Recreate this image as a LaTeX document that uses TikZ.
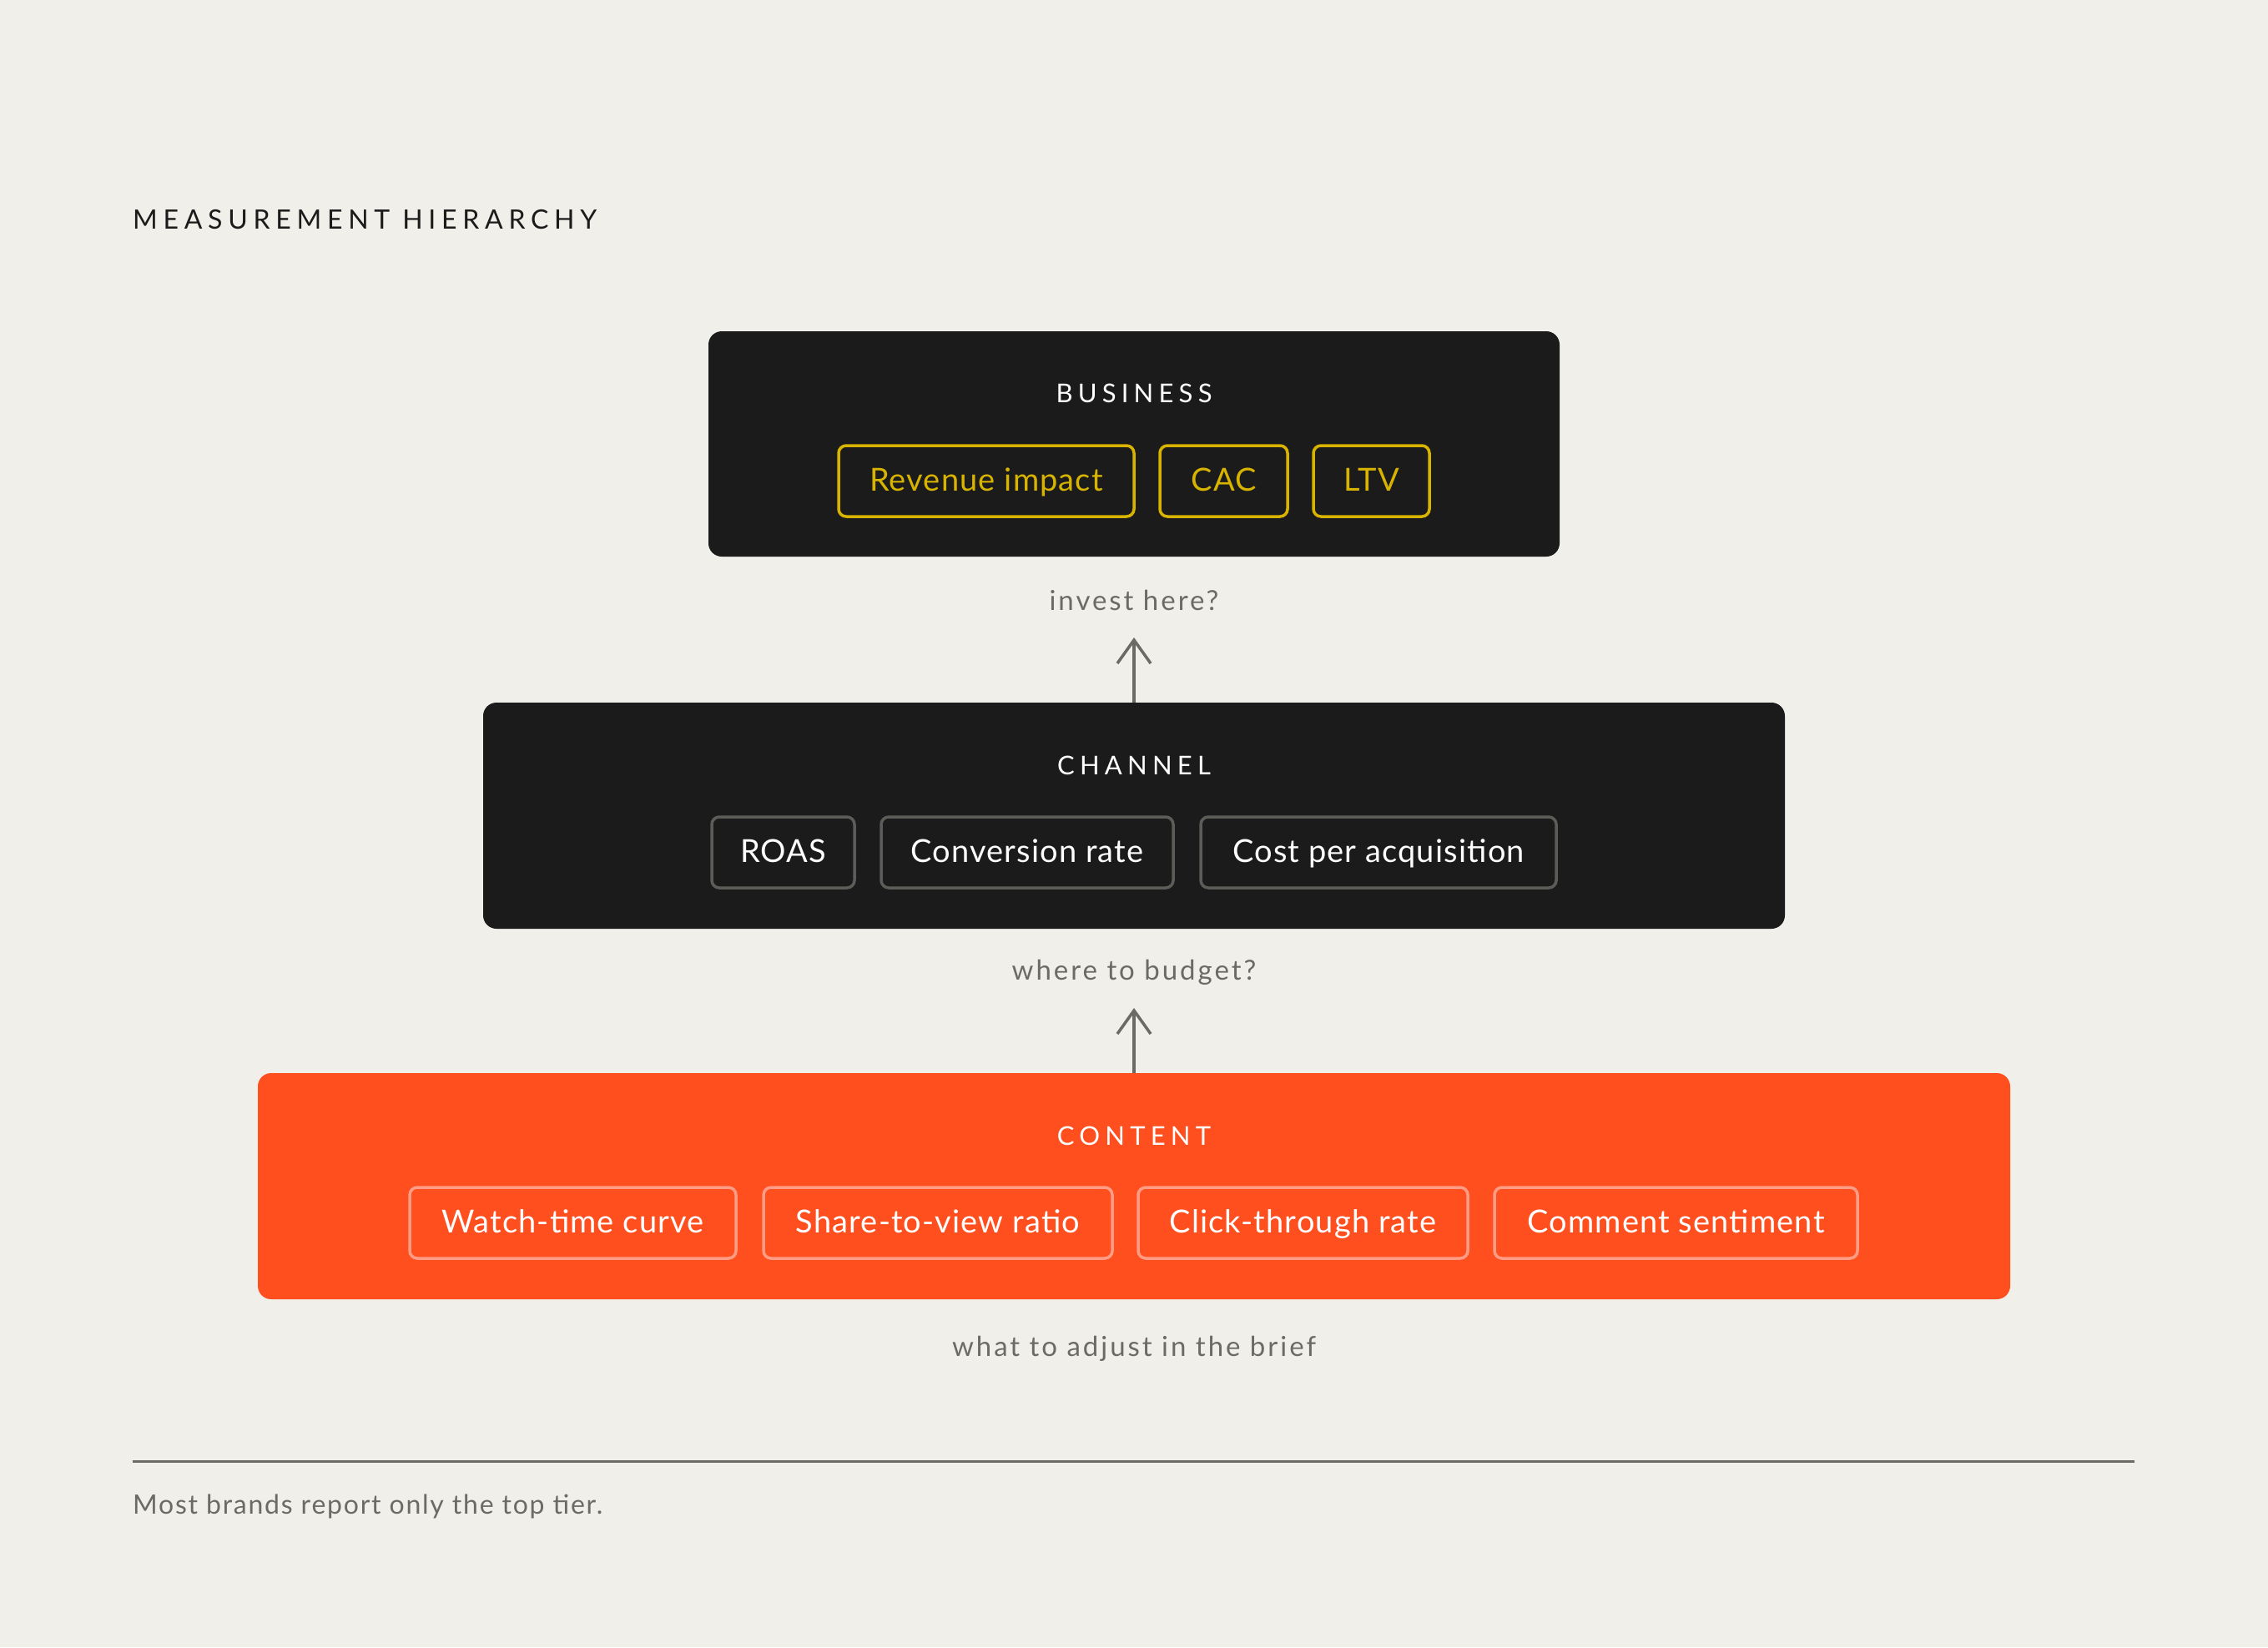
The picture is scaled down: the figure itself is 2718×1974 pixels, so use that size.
\documentclass[tikz,border=0pt]{standalone}
\usepackage{fontspec}
\setmainfont{Lato}
\newfontfamily\spaced[LetterSpace=20]{Lato}
\newfontfamily\tspaced[LetterSpace=21]{Lato}
\newfontfamily\lspaced[LetterSpace=9]{Lato}
\newfontfamily\fspaced[LetterSpace=5.5]{Lato}
\newfontfamily\cspaced[LetterSpace=3]{Lato}
\usetikzlibrary{arrows.meta}
\definecolor{bg}{HTML}{F0EFEA}
\definecolor{ink}{HTML}{1B1B1B}
\definecolor{orng}{HTML}{FF4F1E}
\definecolor{yel}{HTML}{D8B400}
\definecolor{greytxt}{HTML}{6B6B66}
\definecolor{chipgrey}{HTML}{5C5C58}
\definecolor{chiporng}{HTML}{FF9C85}
\tikzset{
  x=1pt, y=-1pt,
  tier/.style={rounded corners=16pt, inner sep=0pt},
  tiertitle/.style={text=white, font=\spaced\fontsize{31}{36}\selectfont, inner sep=0pt},
  chip/.style={rounded corners=9pt, line width=3.5pt, inner sep=0pt, minimum height=85pt,
    text height=29pt, text depth=6pt, font=\cspaced\fontsize{38}{42}\selectfont},
  chipY/.style={chip, draw=yel, text=yel},
  chipG/.style={chip, draw=chipgrey, text=white},
  chipO/.style={chip, draw=chiporng, text=white},
  note/.style={text=greytxt, font=\lspaced\fontsize{33}{38}\selectfont, inner sep=0pt},
  arr/.style={draw=greytxt, line width=3.5pt, -{Straight Barb[length=28pt, width=40pt, line width=3.5pt]}}
}
\begin{document}
\begin{tikzpicture}
\fill[bg] (0,0) rectangle (2718,1974);
\useasboundingbox (0,0) rectangle (2718,1974);

\node[anchor=west, inner sep=0pt, text=ink, font=\tspaced\fontsize{32}{38}\selectfont] (title) at (159,263) {MEASUREMENT HIERARCHY};

% Business
\node[tier, fill=ink, minimum width=1020pt, minimum height=270pt] (biz) at (1359,532) {};
\node[tiertitle] (bizt) at (1359,471) {BUSINESS};
\node[chipY, minimum width=354pt] (rev) at (1182,576.5) {Revenue impact};
\node[chipY, minimum width=153pt] (cac) at (1466.5,576.5) {CAC};
\node[chipY, minimum width=139pt] (ltv) at (1643.5,576.5) {LTV};

\node[note] (n1) at (1359,719) {invest here?};
\coordinate (tip1) at (1359,764);

% Channel
\node[tier, fill=ink, minimum width=1560pt, minimum height=271pt] (chan) at (1359,977.5) {};
\node[tiertitle] (chant) at (1359,917) {CHANNEL};
\node[chipG, minimum width=171pt] (roas) at (938.5,1021.5) {ROAS};
\node[chipG, minimum width=350pt] (conv) at (1231,1021.5) {Conversion rate};
\node[chipG, minimum width=426pt] (cpa) at (1652,1021.5) {Cost per acquisition};

\node[note] (n2) at (1359,1165) {where to budget?};
\coordinate (tip2) at (1359,1208);

% Content
\node[tier, fill=orng, minimum width=2100pt, minimum height=271pt] (cont) at (1359,1421.5) {};
\node[tiertitle] (contt) at (1359,1361) {CONTENT};
\node[chipO, minimum width=391pt] (watch) at (686.5,1465.5) {Watch-time curve};
\node[chipO, minimum width=418pt] (share) at (1124,1465.5) {Share-to-view ratio};
\node[chipO, minimum width=395pt] (click) at (1561.5,1465.5) {Click-through rate};
\node[chipO, minimum width=435pt] (comm) at (2008.5,1465.5) {Comment sentiment};

\node[note] (n3) at (1359,1616) {what to adjust in the brief};

\draw[arr] (chan.north) -- (tip1);
\draw[arr] (cont.north) -- (tip2);

% footer
\coordinate (l1) at (159,1751);
\coordinate (l2) at (2558,1751);
\draw[greytxt, line width=3pt] (l1) -- (l2);
\node[anchor=west, inner sep=0pt, text=greytxt, font=\fspaced\fontsize{32}{36}\selectfont] (foot) at (159,1805) {Most brands report only the top tier.};
\end{tikzpicture}
\end{document}
